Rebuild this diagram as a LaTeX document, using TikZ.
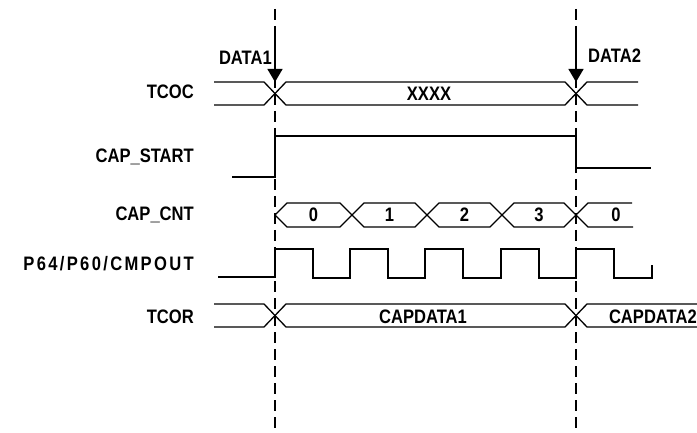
\documentclass[tikz,border=0pt]{standalone}
\usepackage{fontspec}
\setmainfont{Liberation Sans}[FakeStretch=0.85]
\usetikzlibrary{arrows.meta}
\begin{document}
\begin{tikzpicture}[x=1pt,y=-1pt,
  sig/.style={line width=1.3pt,line join=miter},
  guide/.style={line width=1.3pt,dash pattern=on 11pt off 6pt},
  marker/.style={line width=1.3pt,-{Triangle[width=15pt,length=13pt]}},
  lbl/.style={font=\fontsize{19.5}{20}\selectfont\bfseries,inner sep=0pt},
  signame/.style={lbl,anchor=east}]
\useasboundingbox (0,0) rectangle (697,433);
% guides
\coordinate (g1t) at (275,9); \coordinate (g1b) at (275,433);
\coordinate (g2t) at (576,9); \coordinate (g2b) at (576,433);
\draw[guide] (g1t) -- (g1b);
\draw[guide] (g2t) -- (g2b);
% arrows
\coordinate (a1s) at (275,30); \coordinate (a1e) at (275,82);
\coordinate (a2s) at (576,30); \coordinate (a2e) at (576,82);
\draw[marker] (a1s) -- (a1e);
\draw[marker] (a2s) -- (a2e);
\node[lbl,anchor=east] (d1) at (272,58) {DATA1};
\node[lbl,anchor=west] (d2) at (588,56) {DATA2};
% signal names
\node[signame] (n1) at (194,92) {TCOC};
\node[signame] (n2) at (194,157) {CAP\_START};
\node[signame] (n3) at (194,215) {CAP\_CNT};
\node[signame,font=\fontsize{19.5}{20}\selectfont\bfseries\addfontfeature{LetterSpace=12}] (n4) at (194,264) {P64/P60/CMPOUT};
\node[signame] (n5) at (194,317) {TCOR};
% TCOC bus
\draw[sig] (214,82) -- (264,82) -- (286,105) -- (565,105) -- (587,82) -- (638,82);
\draw[sig] (214,105) -- (264,105) -- (286,82) -- (565,82) -- (587,105) -- (638,105);
\node[lbl] (v1) at (429,94) {XXXX};
% CAP_START
\draw[sig] (232,177) -- (275,177) -- (275,136) -- (576,136) -- (576,168) -- (651,168);
% CAP_CNT
\foreach \a/\b/\t in {275/352/0,352/427/1,427/502/2,502/576/3}{
  \draw[sig] (\a,215) -- (\a+12,203) -- (\b-12,203) -- (\b,215) -- (\b-12,227) -- (\a+12,227) -- cycle;
  \node[lbl] at ({(\a+\b)/2},215) {\t};
}
\draw[sig] (632,203) -- (588,203) -- (576,215) -- (588,227) -- (633,227);
\node[lbl] (c5) at (616,215) {0};
% clock
\draw[sig] (218,277) -- (275,277) -- (275,249) -- (313,249) -- (313,278) -- (350,278) -- (350,249)
  -- (388,249) -- (388,278) -- (425,278) -- (425,249) -- (463,249) -- (463,278) -- (501,278)
  -- (501,249) -- (539,249) -- (539,278) -- (576,278) -- (576,249) -- (614,249) -- (614,278)
  -- (652,278) -- (652,265);
% TCOR bus
\draw[sig] (214,304) -- (264,304) -- (286,327) -- (565,327) -- (587,304) -- (697,304);
\draw[sig] (214,327) -- (264,327) -- (286,304) -- (565,304) -- (587,327) -- (697,327);
\node[lbl] (v2) at (423,317) {CAPDATA1};
\node[lbl,anchor=east] (v3) at (697,317) {CAPDATA2};
\end{tikzpicture}
\end{document}
